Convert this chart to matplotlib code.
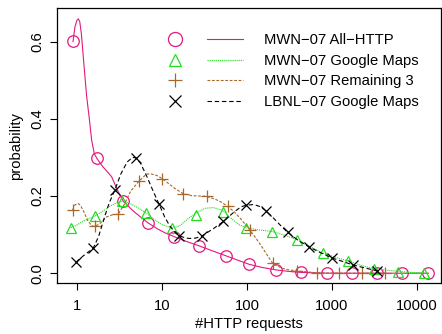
import matplotlib
matplotlib.use('Agg')
import matplotlib.pyplot as plt
from matplotlib.lines import Line2D
from matplotlib.legend_handler import HandlerTuple

# -------------------------------------------------------- #
#                    Chart data                            #
# -------------------------------------------------------- #

labels = ['MWN\u221207 All\u2212HTTP', 'MWN\u221207 Google Maps',
          'MWN\u221207 Remaining 3', 'LBNL\u221207 Google Maps']

# marker points
all_x = [0.9, 1.71, 3.5, 6.9, 13.8, 27.2, 56.6, 106, 219, 432, 866,
         1705, 3357, 6600, 13600]
all_y = [0.602, 0.298, 0.187, 0.130, 0.095, 0.071, 0.045, 0.023, 0.0085,
         0.002, 0.0, 0.0, 0.0, 0.0, 0.0]

gm_x = [0.85, 1.63, 3.41, 6.43, 13.0, 25.1, 51.7, 98, 198, 385, 780,
        1530, 3100, 5900, 12100]
gm_y = [0.118, 0.148, 0.187, 0.157, 0.116, 0.152, 0.158, 0.118, 0.108,
        0.087, 0.052, 0.032, 0.010, 0.004, 0.001]

rem_x = [0.89, 1.63, 3.06, 5.4, 10.1, 17.8, 33.5, 59, 108, 200, 385,
         660, 1220, 2230, 4190]
rem_y = [0.164, 0.121, 0.153, 0.239, 0.245, 0.206, 0.199, 0.173, 0.112,
         0.026, 0.006, 0.001, 0.0, 0.0, 0.0]

lbnl_x = [0.97, 1.55, 2.8, 4.94, 9.2, 16, 29.3, 52.7, 97.7, 168, 300,
          538, 1010, 1780, 3360]
lbnl_y = [0.028, 0.064, 0.216, 0.299, 0.180, 0.096, 0.096, 0.134, 0.176,
          0.161, 0.106, 0.068, 0.039, 0.021, 0.006]

# smoothed curves
all_cx = [0.9, 0.95, 1.0, 1.04, 1.08, 1.13, 1.2, 1.3, 1.4, 1.49, 1.6,
          1.71, 2.0, 2.56, 3.0, 3.5, 4.5, 5.5, 6.9, 9, 11, 13.8, 18, 22,
          27.2, 35, 45, 56.6, 75, 106, 150, 219, 300, 432, 600, 866, 1705,
          3357, 6600, 13600]
all_cy = [0.60, 0.639, 0.655, 0.659, 0.652, 0.62, 0.55, 0.46, 0.40, 0.345,
          0.31, 0.298, 0.277, 0.250, 0.215, 0.187, 0.163, 0.147, 0.130,
          0.114, 0.104, 0.095, 0.085, 0.078, 0.071, 0.062, 0.053, 0.045,
          0.035, 0.023, 0.015, 0.0085, 0.005, 0.002, 0.001, 0.0, 0.0, 0.0,
          0.0, 0.0]

gm_cx = [0.85, 1.0, 1.2, 1.4, 1.63, 2.0, 2.5, 3.0, 3.41, 4.0, 5.0, 6.43,
         8, 10, 13.0, 16, 20, 25.1, 32, 40, 51.7, 65, 80, 98, 130, 198,
         280, 385, 550, 780, 1100, 1530, 2200, 3100, 4200, 5900, 8500,
         12100]
gm_cy = [0.118, 0.125, 0.135, 0.142, 0.148, 0.160, 0.175, 0.183, 0.186,
         0.183, 0.172, 0.157, 0.140, 0.126, 0.117, 0.122, 0.140, 0.156,
         0.168, 0.170, 0.163, 0.142, 0.126, 0.118, 0.113, 0.108, 0.098,
         0.087, 0.069, 0.052, 0.041, 0.032, 0.020, 0.012, 0.008, 0.005,
         0.002, 0.001]

rem_cx = [0.89, 0.95, 1.03, 1.1, 1.2, 1.35, 1.5, 1.63, 1.9, 2.24, 2.6,
          3.06, 3.6, 4.3, 5.4, 6.6, 7.5, 8.7, 10.1, 12, 14.5, 17.8, 22,
          27, 33.5, 42, 50, 59, 70, 85, 108, 130, 150, 175, 200, 250, 300,
          385, 660, 1220, 2230, 4190]
rem_cy = [0.164, 0.177, 0.181, 0.176, 0.160, 0.135, 0.123, 0.121, 0.130,
          0.146, 0.151, 0.153, 0.178, 0.213, 0.239, 0.257, 0.257, 0.253,
          0.245, 0.232, 0.218, 0.206, 0.201, 0.200, 0.199, 0.192, 0.184,
          0.173, 0.160, 0.140, 0.112, 0.088, 0.068, 0.045, 0.026, 0.014,
          0.009, 0.006, 0.001, 0.0, 0.0, 0.0]

lbnl_cx = [0.97, 1.19, 1.4, 1.55, 1.8, 2.13, 2.4, 2.8, 3.3, 3.9, 4.5,
           4.94, 5.6, 6.6, 7.8, 9.2, 10.8, 12.4, 14, 16, 19, 21.4, 25,
           29.3, 40, 52.7, 70, 85, 97.7, 120, 145, 168, 200, 250, 300, 400,
           538, 750, 1010, 1350, 1780, 2500, 3360]
lbnl_cy = [0.028, 0.045, 0.057, 0.064, 0.095, 0.148, 0.182, 0.216, 0.258,
           0.288, 0.300, 0.299, 0.285, 0.252, 0.215, 0.180, 0.145, 0.122,
           0.108, 0.097, 0.091, 0.090, 0.091, 0.096, 0.115, 0.134, 0.158,
           0.172, 0.176, 0.178, 0.172, 0.161, 0.145, 0.123, 0.106, 0.085,
           0.068, 0.052, 0.039, 0.030, 0.021, 0.013, 0.006]

x_ticks = [1, 10, 100, 1000, 10000]
x_tick_labels = ['1', '10', '100', '1000', '10000']
y_ticks = [0.0, 0.2, 0.4, 0.6]
y_tick_labels = ['0.0', '0.2', '0.4', '0.6']

# -------------------------------------------------------- #
#                    Styling                               #
# -------------------------------------------------------- #

plt.rcParams['font.family'] = ['Liberation Sans', 'DejaVu Sans']
plt.rcParams['font.size'] = 10.6
plt.rcParams['lines.scale_dashes'] = False

pink = '#E4197F'
green = '#22DD22'
brown = '#A8662A'
black = '#000000'

series = [
    (all_x, all_y, all_cx, all_cy, pink, 'o', '-', None, 8.3),
    (gm_x, gm_y, gm_cx, gm_cy, green, '^', '-', (0, (0.8, 0.7)), 7.3),
    (rem_x, rem_y, rem_cx, rem_cy, brown, '+', '-', (0, (2.0, 1.2)), 8.5),
    (lbnl_x, lbnl_y, lbnl_cx, lbnl_cy, black, 'x', '-', (0, (3.2, 2.0)), 7),
]

fig = plt.figure(figsize=(4.42, 3.34), dpi=100)
ax = fig.add_axes([0.128, 0.152, 0.870, 0.824])

handles = []
for mx, my, cx, cy, col, mk, ls, dash, ms in series:
    line, = ax.plot(cx, cy, color=col, lw=0.8, ls=ls)
    if dash is not None:
        line.set_linestyle(dash)
    ax.plot(mx, my, ls='none', marker=mk, ms=ms, mfc='none', mec=col,
            mew=0.9)
    hm = Line2D([], [], ls='none', marker=mk, ms=ms * 1.22, mfc='none',
                mec=col, mew=0.9)
    hl = Line2D([], [], color=col, lw=0.8,
                ls=dash if dash is not None else ls)
    handles.append((hm, hl))

ax.set_xscale('log')
ax.set_xlim(0.577, 19150)
ax.set_ylim(-0.026, 0.687)
ax.set_xticks(x_ticks)
ax.set_xticklabels(x_tick_labels)
ax.minorticks_off()
ax.set_yticks(y_ticks)
ax.set_yticklabels(y_tick_labels, rotation=90, va='center')
ax.tick_params(direction='out', length=5, width=0.8, pad=4)
ax.tick_params(axis='x', pad=6)
for sp in ax.spines.values():
    sp.set_linewidth(0.9)

ax.set_xlabel('#HTTP requests', labelpad=3)
ax.set_ylabel('probability', labelpad=5)

ax.legend(handles, labels,
          handler_map={tuple: HandlerTuple(ndivide=2, pad=0.92)},
          handlelength=5.8, handletextpad=1.45, labelspacing=0.44,
          borderpad=0, frameon=False, loc='upper left',
          bbox_to_anchor=(0.243, 0.935))

fig.savefig('out.png', dpi=100)
